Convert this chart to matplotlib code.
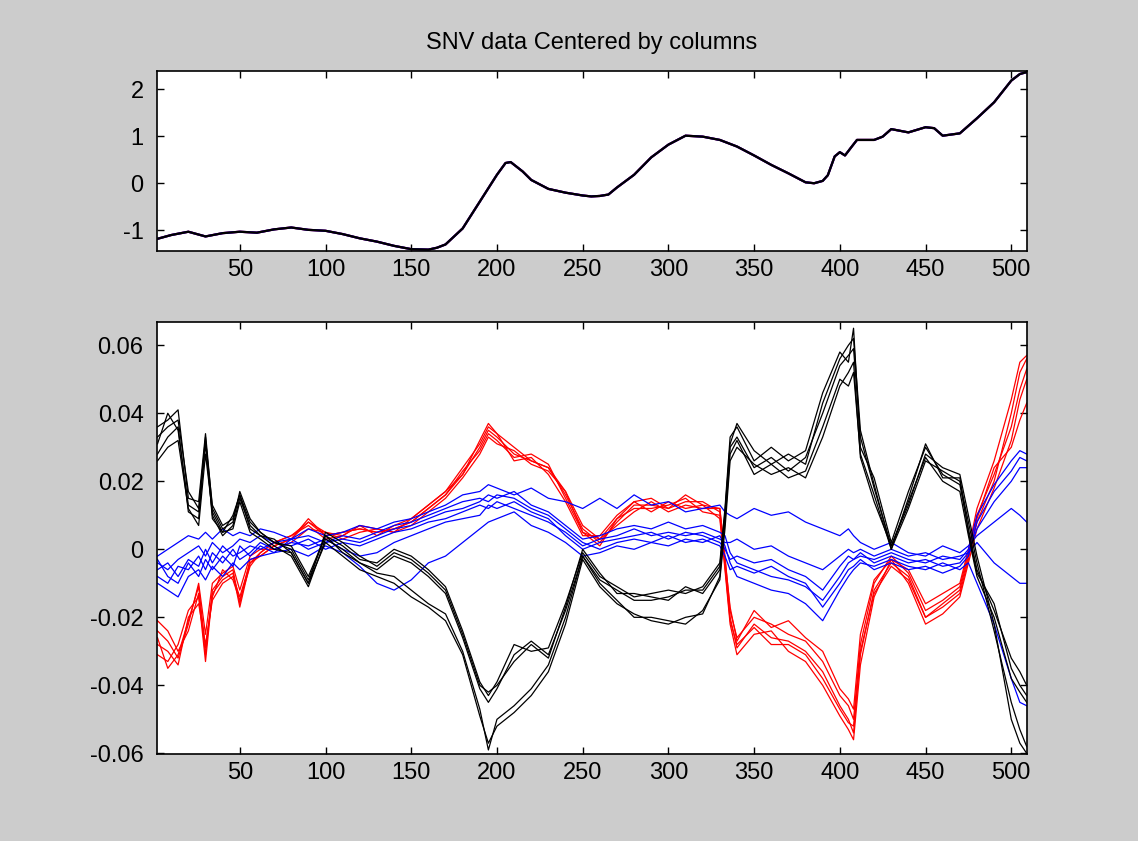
import numpy as np
import matplotlib
matplotlib.use("Agg")
import matplotlib.pyplot as plt

# columns where the spectra were sampled
cols = [2, 8, 14, 20, 26, 30, 34, 40, 46, 50,
        56, 62, 70, 80, 90, 100, 110, 120, 130, 140,
        150, 160, 170, 180, 190, 195, 200, 210, 220, 230,
        240, 250, 260, 270, 280, 290, 300, 310, 320, 330,
        333, 336, 340, 350, 360, 370, 380, 390, 400, 405,
        408, 412, 420, 430, 440, 450, 460, 470, 475, 480,
        490, 500, 505, 509]

# SNV spectrum (all samples overlap)
snv_cols = [2, 10, 20, 30, 40, 50, 60, 70, 80, 90, 100, 110, 120, 130, 140,
            150, 160, 165, 170, 180, 190, 200, 205, 208, 215, 220, 230, 240,
            250, 255, 260, 265, 270, 280, 290, 300, 310, 320, 330, 340, 350,
            360, 370, 380, 385, 390, 393, 397, 400, 403, 407, 410, 420, 425,
            430, 440, 450, 455, 460, 470, 480, 490, 495, 500, 505, 509]
snv = [-1.18, -1.10, -1.03, -1.13, -1.06, -1.03, -1.05, -0.98, -0.94, -0.99,
       -1.01, -1.08, -1.17, -1.24, -1.33, -1.40, -1.41, -1.37, -1.30, -0.96,
       -0.39, 0.18, 0.43, 0.45, 0.25, 0.07, -0.12, -0.20, -0.26, -0.28,
       -0.27, -0.24, -0.09, 0.18, 0.55, 0.82, 1.01, 0.99, 0.92, 0.78, 0.59,
       0.39, 0.21, 0.02, 0.00, 0.05, 0.17, 0.57, 0.66, 0.59, 0.78, 0.92,
       0.92, 0.99, 1.15, 1.08, 1.19, 1.17, 1.01, 1.06, 1.38, 1.72, 1.95,
       2.18, 2.32, 2.36]

# centred spectra, class 1 (black)
k1 = [0.036, 0.038, 0.041, 0.015, 0.014, 0.034, 0.012, 0.006, 0.008, 0.017,
      0.009, 0.005, 0.002, 0.000, -0.009, 0.004, 0.001, -0.003, -0.004, 0.000,
      -0.002, -0.006, -0.011, -0.024, -0.039, -0.043, -0.039, -0.028, -0.030, -0.029,
      -0.016, -0.001, -0.008, -0.011, -0.014, -0.013, -0.012, -0.013, -0.011, -0.004,
      0.012, 0.033, 0.036, 0.026, 0.030, 0.026, 0.029, 0.046, 0.058, 0.055,
      0.065, 0.030, 0.021, 0.002, 0.017, 0.030, 0.022, 0.019, 0.006, -0.006,
      -0.018, -0.032, -0.036, -0.040]
k2 = [0.028, 0.033, 0.036, 0.011, 0.009, 0.031, 0.010, 0.004, 0.007, 0.015,
      0.007, 0.004, 0.001, -0.002, -0.011, 0.003, 0.000, -0.004, -0.006, -0.002,
      -0.004, -0.008, -0.013, -0.026, -0.041, -0.045, -0.041, -0.031, -0.027, -0.031,
      -0.018, -0.002, -0.009, -0.012, -0.015, -0.015, -0.014, -0.012, -0.012, -0.005,
      0.010, 0.030, 0.033, 0.024, 0.027, 0.023, 0.027, 0.040, 0.054, 0.057,
      0.059, 0.033, 0.018, 0.001, 0.014, 0.027, 0.020, 0.017, 0.004, -0.008,
      -0.020, -0.038, -0.042, -0.045]
k3 = [0.026, 0.030, 0.032, 0.012, 0.007, 0.028, 0.011, 0.005, 0.006, 0.014,
      0.005, 0.003, 0.000, -0.001, -0.010, 0.002, -0.002, -0.006, -0.008, -0.010,
      -0.014, -0.017, -0.021, -0.031, -0.049, -0.057, -0.052, -0.048, -0.043, -0.036,
      -0.022, -0.003, -0.011, -0.016, -0.019, -0.021, -0.022, -0.020, -0.019, -0.008,
      0.008, 0.028, 0.032, 0.022, 0.025, 0.021, 0.023, 0.036, 0.050, 0.048,
      0.052, 0.028, 0.016, 0.000, 0.012, 0.026, 0.023, 0.020, 0.008, -0.004,
      -0.024, -0.045, -0.053, -0.058]
k4 = [0.033, 0.036, 0.038, 0.017, 0.012, 0.032, 0.013, 0.007, 0.009, 0.016,
      0.008, 0.005, 0.002, 0.001, -0.008, 0.004, -0.001, -0.004, -0.007, -0.008,
      -0.012, -0.016, -0.019, -0.030, -0.047, -0.059, -0.050, -0.046, -0.041, -0.034,
      -0.020, -0.002, -0.010, -0.015, -0.020, -0.020, -0.021, -0.022, -0.018, -0.009,
      0.006, 0.026, 0.030, 0.025, 0.022, 0.024, 0.021, 0.033, 0.048, 0.052,
      0.055, 0.027, 0.014, 0.001, 0.013, 0.028, 0.024, 0.022, 0.010, -0.002,
      -0.022, -0.050, -0.057, -0.060]
k5 = [0.031, 0.040, 0.035, 0.013, 0.011, 0.033, 0.009, 0.005, 0.010, 0.016,
      0.006, 0.004, 0.003, -0.001, -0.010, 0.005, 0.002, -0.002, -0.005, -0.001,
      -0.003, -0.007, -0.012, -0.025, -0.040, -0.042, -0.040, -0.033, -0.028, -0.032,
      -0.017, 0.000, -0.007, -0.013, -0.013, -0.014, -0.015, -0.011, -0.013, -0.006,
      0.011, 0.031, 0.037, 0.029, 0.025, 0.028, 0.025, 0.043, 0.056, 0.060,
      0.062, 0.035, 0.019, 0.000, 0.015, 0.031, 0.021, 0.021, 0.005, -0.007,
      -0.016, -0.035, -0.040, -0.043]

# class 2 (red)
r1 = [-0.021, -0.024, -0.030, -0.024, -0.013, -0.031, -0.012, -0.008, -0.006, -0.016,
      -0.003, -0.002, 0.001, 0.003, 0.008, 0.004, 0.005, 0.006, 0.005, 0.006,
      0.008, 0.012, 0.016, 0.022, 0.030, 0.035, 0.033, 0.028, 0.026, 0.024,
      0.016, 0.006, 0.002, 0.008, 0.013, 0.013, 0.012, 0.014, 0.014, 0.011,
      -0.004, -0.020, -0.029, -0.022, -0.026, -0.027, -0.030, -0.036, -0.046, -0.050,
      -0.054, -0.031, -0.012, -0.004, -0.008, -0.020, -0.016, -0.012, -0.002, 0.008,
      0.020, 0.040, 0.052, 0.056]
r2 = [-0.028, -0.030, -0.034, -0.020, -0.016, -0.028, -0.015, -0.010, -0.008, -0.014,
      -0.004, -0.001, 0.002, 0.004, 0.007, 0.003, 0.004, 0.007, 0.004, 0.007,
      0.009, 0.013, 0.017, 0.024, 0.031, 0.036, 0.034, 0.026, 0.027, 0.022,
      0.014, 0.004, 0.004, 0.010, 0.014, 0.011, 0.014, 0.012, 0.013, 0.009,
      -0.006, -0.022, -0.031, -0.025, -0.024, -0.030, -0.033, -0.040, -0.049, -0.053,
      -0.056, -0.034, -0.014, -0.003, -0.010, -0.022, -0.019, -0.014, -0.004, 0.006,
      0.018, 0.032, 0.044, 0.050]
r3 = [-0.024, -0.027, -0.032, -0.022, -0.010, -0.025, -0.010, -0.007, -0.005, -0.012,
      -0.002, 0.000, 0.000, 0.002, 0.006, 0.005, 0.003, 0.005, 0.006, 0.005,
      0.007, 0.011, 0.015, 0.021, 0.028, 0.033, 0.031, 0.029, 0.025, 0.023,
      0.017, 0.007, 0.003, 0.007, 0.011, 0.014, 0.011, 0.013, 0.012, 0.012,
      -0.002, -0.018, -0.026, -0.020, -0.022, -0.025, -0.027, -0.033, -0.043, -0.046,
      -0.050, -0.028, -0.010, -0.002, -0.007, -0.018, -0.015, -0.011, -0.001, 0.010,
      0.022, 0.036, 0.047, 0.053]
r4 = [-0.031, -0.033, -0.028, -0.018, -0.014, -0.033, -0.013, -0.009, -0.007, -0.017,
      -0.004, -0.002, 0.001, 0.003, 0.009, 0.004, 0.005, 0.006, 0.005, 0.006,
      0.008, 0.012, 0.016, 0.023, 0.029, 0.034, 0.032, 0.027, 0.028, 0.025,
      0.015, 0.005, 0.001, 0.009, 0.012, 0.012, 0.013, 0.015, 0.011, 0.010,
      -0.005, -0.021, -0.028, -0.023, -0.028, -0.028, -0.031, -0.038, -0.047, -0.051,
      -0.052, -0.030, -0.013, -0.005, -0.009, -0.020, -0.017, -0.013, -0.003, 0.009,
      0.024, 0.030, 0.038, 0.043]
r5 = [-0.026, -0.035, -0.031, -0.021, -0.011, -0.029, -0.014, -0.006, -0.009, -0.015,
      -0.005, -0.001, 0.002, 0.004, 0.008, 0.005, 0.004, 0.007, 0.006, 0.005,
      0.009, 0.013, 0.017, 0.022, 0.032, 0.037, 0.034, 0.030, 0.026, 0.024,
      0.017, 0.005, 0.003, 0.009, 0.014, 0.015, 0.012, 0.016, 0.013, 0.012,
      -0.003, -0.017, -0.027, -0.018, -0.023, -0.021, -0.026, -0.030, -0.041, -0.044,
      -0.047, -0.025, -0.009, -0.003, -0.006, -0.016, -0.013, -0.010, 0.000, 0.012,
      0.026, 0.044, 0.055, 0.057]

# class 3 (blue)
b1 = [-0.004, -0.006, -0.003, -0.001, 0.001, -0.002, 0.002, -0.001, 0.001, 0.003,
      0.002, 0.004, 0.002, 0.003, 0.004, 0.002, 0.003, 0.002, 0.004, 0.006,
      0.007, 0.009, 0.011, 0.012, 0.014, 0.016, 0.015, 0.017, 0.013, 0.011,
      0.007, 0.003, 0.004, 0.006, 0.007, 0.006, 0.008, 0.006, 0.007, 0.005,
      0.004, -0.001, -0.004, -0.006, -0.008, -0.009, -0.011, -0.015, -0.008, -0.004,
      -0.003, -0.002, -0.003, -0.001, -0.003, -0.004, -0.002, -0.003, 0.000, 0.010,
      0.019, 0.026, 0.029, 0.028]
b2 = [-0.002, 0.000, 0.002, 0.004, 0.003, 0.005, 0.003, 0.006, 0.004, 0.005,
      0.004, 0.006, 0.005, 0.003, 0.006, 0.004, 0.005, 0.007, 0.006, 0.008,
      0.009, 0.011, 0.013, 0.016, 0.017, 0.019, 0.018, 0.016, 0.018, 0.015,
      0.014, 0.012, 0.015, 0.012, 0.016, 0.013, 0.014, 0.011, 0.012, 0.013,
      0.011, 0.010, 0.009, 0.012, 0.010, 0.011, 0.008, 0.006, 0.004, 0.006,
      0.004, 0.002, 0.000, 0.002, -0.001, -0.002, 0.001, -0.001, 0.001, 0.004,
      0.008, 0.012, 0.010, 0.008]
b3 = [-0.010, -0.012, -0.014, -0.008, -0.006, -0.009, -0.005, -0.008, -0.004, -0.006,
      -0.003, -0.002, -0.001, 0.000, -0.002, 0.001, -0.001, -0.005, -0.010, -0.012,
      -0.009, -0.004, -0.002, 0.002, 0.006, 0.008, 0.009, 0.011, 0.007, 0.005,
      0.002, -0.002, -0.001, 0.001, 0.000, 0.002, 0.001, 0.003, 0.002, 0.004,
      0.001, -0.004, -0.008, -0.010, -0.012, -0.013, -0.016, -0.021, -0.012, -0.008,
      -0.006, -0.004, -0.005, -0.003, -0.005, -0.006, -0.004, -0.006, -0.004, -0.010,
      -0.022, -0.038, -0.045, -0.046]
b4 = [-0.006, -0.004, -0.008, -0.003, -0.005, 0.000, -0.004, 0.001, -0.002, -0.001,
      0.001, 0.000, 0.002, 0.001, 0.003, 0.000, 0.002, 0.001, 0.003, 0.005,
      0.006, 0.008, 0.009, 0.011, 0.013, 0.012, 0.014, 0.012, 0.010, 0.008,
      0.005, 0.001, 0.003, 0.004, 0.006, 0.004, 0.005, 0.004, 0.005, 0.003,
      0.002, 0.002, 0.003, 0.000, 0.001, -0.002, -0.004, -0.006, -0.002, 0.000,
      -0.001, 0.000, -0.002, 0.000, -0.002, -0.001, -0.003, -0.002, -0.001, 0.002,
      -0.004, -0.008, -0.010, -0.010]
b5 = [-0.008, -0.010, -0.005, -0.006, -0.002, -0.006, -0.001, -0.004, 0.000, -0.003,
      -0.001, 0.002, 0.000, 0.002, 0.001, 0.003, 0.000, -0.002, -0.001, 0.002,
      0.004, 0.006, 0.008, 0.009, 0.010, 0.013, 0.012, 0.014, 0.011, 0.009,
      0.004, 0.000, 0.002, 0.003, 0.004, 0.005, 0.003, 0.005, 0.004, 0.002,
      0.000, -0.003, -0.002, -0.004, -0.003, -0.006, -0.008, -0.012, -0.005, -0.002,
      -0.003, -0.001, -0.004, -0.002, -0.004, -0.003, -0.005, -0.004, -0.001, 0.006,
      0.014, 0.020, 0.024, 0.024]
b6 = [-0.003, -0.008, -0.010, -0.004, -0.008, -0.003, -0.006, -0.002, -0.005, 0.001,
      -0.002, 0.001, -0.001, 0.003, 0.000, 0.002, 0.004, 0.003, 0.005, 0.007,
      0.008, 0.010, 0.012, 0.014, 0.015, 0.014, 0.016, 0.015, 0.012, 0.010,
      0.006, 0.002, 0.000, 0.002, 0.003, 0.002, 0.004, 0.002, 0.003, 0.001,
      -0.002, -0.006, -0.005, -0.007, -0.005, -0.008, -0.010, -0.017, -0.010, -0.006,
      -0.005, -0.003, -0.006, -0.004, -0.006, -0.005, -0.007, -0.005, -0.002, 0.008,
      0.017, 0.023, 0.027, 0.026]

plt.rcParams['font.family'] = ['Liberation Sans', 'DejaVu Sans']
plt.rcParams['font.size'] = 17
plt.rcParams['axes.unicode_minus'] = False

fig = plt.figure(figsize=(11.38, 8.41), dpi=100, facecolor='#cccccc')
ax1 = fig.add_axes([0.1384, 0.7015, 0.7638, 0.2144])
ax2 = fig.add_axes([0.1384, 0.1034, 0.7638, 0.5136])

# top panel: the SNV spectra themselves
for c in ['red', 'blue', 'black']:
    ax1.plot(snv_cols, snv, color=c, linewidth=1.6)
ax1.set_ylim(-1.44, 2.39)
ax1.set_yticks([-1, 0, 1, 2])
ax1.set_title('SNV data Centered by columns', fontsize=17, pad=16)

# bottom panel: column-centred spectra per class
for y in [r1, r2, r3, r4, r5]:
    ax2.plot(cols, y, color='red', linewidth=0.9)
for y in [b1, b2, b3, b4, b5, b6]:
    ax2.plot(cols, y, color='blue', linewidth=0.9)
for y in [k1, k2, k3, k4, k5]:
    ax2.plot(cols, y, color='black', linewidth=0.9)
ax2.set_ylim(-0.0602, 0.0668)
ax2.set_yticks([-0.06, -0.04, -0.02, 0, 0.02, 0.04, 0.06])
ax2.set_yticklabels(['-0.06', '-0.04', '-0.02', '0', '0.02', '0.04', '0.06'])

for ax in (ax1, ax2):
    ax.set_xlim(2, 509)
    ax.set_xticks(range(50, 501, 50))
    ax.set_facecolor('white')
    ax.tick_params(direction='in', length=5, width=1, top=True, right=True,
                   labelsize=17)
    ax.tick_params(axis='x', pad=6)
    ax.tick_params(axis='y', pad=10)
    for s in ax.spines.values():
        s.set_linewidth(1.2)

fig.savefig('out.png', dpi=100, facecolor=fig.get_facecolor())
